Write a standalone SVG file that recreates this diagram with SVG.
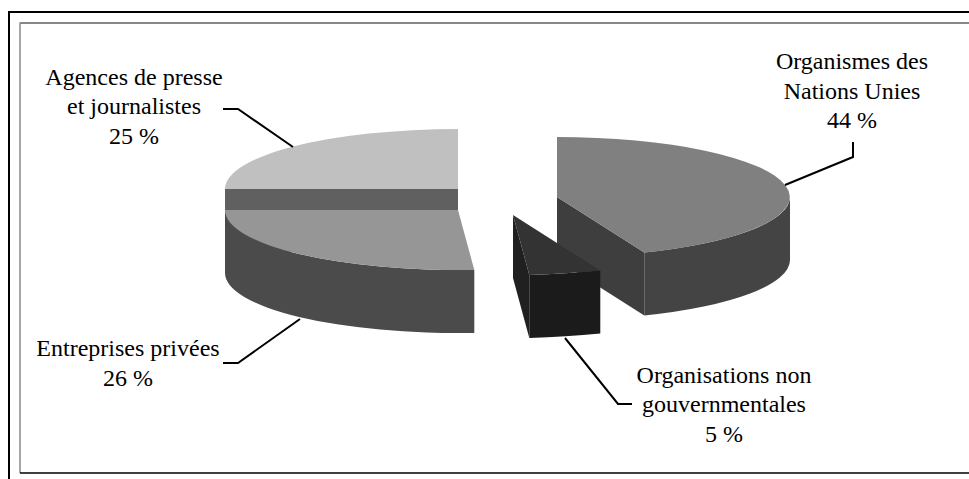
<svg xmlns="http://www.w3.org/2000/svg" width="969" height="479" viewBox="0 0 969 479">
<style>
text{font-family:"Liberation Serif","Times New Roman",serif;font-size:24px;fill:#000;text-anchor:middle}
.ld{fill:none;stroke:#000;stroke-width:2}
</style>
<rect width="969" height="479" fill="#fff"/>
<g id="frame">
<path d="M9,479 V12 H969" fill="none" stroke="#000" stroke-width="2"/>
<path d="M20,23 H969" fill="none" stroke="#606060" stroke-width="1.5"/>
<path d="M20,22.5 V473" fill="none" stroke="#8a8a8a" stroke-width="1.5"/>
<path d="M20,473 H969" fill="none" stroke="#000" stroke-width="1.5"/>
</g>
<g id="organismes">
<path d="M557,197 L644.3,252.6 L644.3,315.6 L557,260 Z" fill="#3e3e3e"/>
<path d="M790,197 A233,60 0 0 1 644.3,252.6 L644.3,315.6 A233,60 0 0 0 790,260 Z" fill="#444"/>
<path d="M557,197 L557,137 A233,60 0 0 1 644.3,252.6 Z" fill="#808080"/>
<text x="852" y="69">Organismes des</text>
<text x="852" y="98.5">Nations Unies</text>
<text x="852" y="128">44 %</text>
</g>
<g id="ong">
<path d="M513,215 L529.3,274.9 L529.3,337.9 L513,278 Z" fill="#202020"/>
<path d="M600.3,270.6 A233,60 0 0 1 529.3,274.9 L529.3,337.9 A233,60 0 0 0 600.3,333.6 Z" fill="#1b1b1b"/>
<path d="M513,215 L600.3,270.6 A233,60 0 0 1 529.3,274.9 Z" fill="#333"/>
<text x="724" y="383">Organisations non</text>
<text x="724" y="412">gouvernmentales</text>
<text x="724" y="442">5 %</text>
</g>
<g id="agences">
<rect x="225" y="189" width="233" height="63" fill="#606060"/>
<path d="M458,189 L225,189 A233,60 0 0 1 458,129 Z" fill="#c0c0c0"/>
<text x="134" y="85">Agences de presse</text>
<text x="134" y="114">et journalistes</text>
<text x="134" y="144">25 %</text>
</g>
<g id="entreprises">
<path d="M225,210 A233,60 0 0 0 474.3,269.9 L474.3,332.9 A233,60 0 0 1 225,273 Z" fill="#4b4b4b"/>
<path d="M458,210 L225,210 A233,60 0 0 0 474.3,269.9 Z" fill="#969696"/>
<text x="128" y="356">Entreprises privées</text>
<text x="128" y="386">26 %</text>
</g>
<g id="connectors">
<polyline class="ld" points="223,109 238,109 293,147"/>
<polyline class="ld" points="853,142 853,157 785,185"/>
<polyline class="ld" points="223,363 238,363 300,319"/>
<polyline class="ld" points="565,338 618,404 632,404"/>
</g>
</svg>
